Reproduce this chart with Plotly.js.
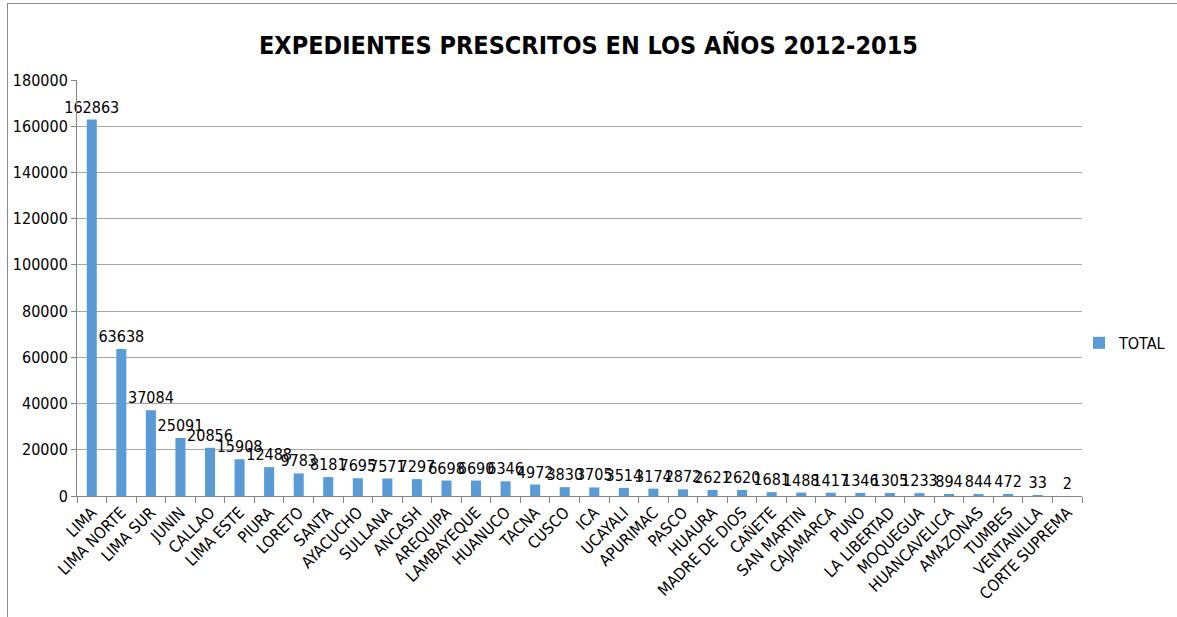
<!DOCTYPE html>
<html><head><meta charset="utf-8">
<script src="https://cdn.plot.ly/plotly-3.0.1.min.js"></script>
<style>
html,body{margin:0;padding:0;background:#fff;}
#frame{position:absolute;left:7px;top:3px;width:1175px;height:620px;border:1px solid #8c8c8c;box-sizing:border-box;}
#chart{position:absolute;left:0;top:0;width:1177px;height:617px;}
</style>
</head><body>
<div id="frame"></div>
<div id="chart"></div>
<script>
const categories = ["LIMA","LIMA NORTE","LIMA SUR","JUNIN","CALLAO","LIMA ESTE","PIURA","LORETO","SANTA","AYACUCHO","SULLANA","ANCASH","AREQUIPA","LAMBAYEQUE","HUANUCO","TACNA","CUSCO","ICA","UCAYALI","APURIMAC","PASCO","HUAURA","MADRE DE DIOS","CAÑETE","SAN MARTIN","CAJAMARCA","PUNO","LA LIBERTAD","MOQUEGUA","HUANCAVELICA","AMAZONAS","TUMBES","VENTANILLA","CORTE SUPREMA"];
const totals = [162863,63638,37084,25091,20856,15908,12488,9783,8181,7695,7571,7297,6698,6690,6346,4972,3830,3705,3514,3174,2872,2621,2620,1681,1488,1417,1346,1305,1233,894,844,472,33,2];
const yTicks = [0,20000,40000,60000,80000,100000,120000,140000,160000,180000];

const fontFam = "'DejaVu Sans Condensed', 'Liberation Sans Narrow', sans-serif";
const titleFam = "'DejaVu Sans Condensed', 'Liberation Sans Narrow', sans-serif";

const trace = {
  type: 'bar', name: 'TOTAL', x: categories, y: totals,
  text: totals.map(String), textposition: 'outside', cliponaxis: false, constraintext: 'none',
  textfont: {family: fontFam, size: 16, color: '#000'},
  outsidetextfont: {family: fontFam, size: 16, color: '#000'},
  marker: {color: '#5b9bd5'}
};

const layout = {
  width: 1177, height: 617,
  margin: {l: 77, r: 95, t: 80, b: 121, autoexpand: false},
  paper_bgcolor: 'rgba(0,0,0,0)', plot_bgcolor: 'rgba(0,0,0,0)',
  title: {text: 'EXPEDIENTES PRESCRITOS EN LOS AÑOS 2012-2015', x: 0.5, xanchor: 'center', y: 0.927, yanchor: 'middle',
          font: {family: titleFam, size: 25, color: '#000', weight: 'bold'}},
  bargap: 0.66,
  showlegend: true,
  legend: {x: 0.997, xanchor: 'left', y: 0.368, yanchor: 'middle', itemwidth: 30, font: {family: fontFam, size: 16, color: '#000'}},
  xaxis: {type: 'category', tickangle: -45, ticks: 'outside', tickson: 'boundaries', ticklen: 6, tickcolor: '#868686',
          showline: true, linecolor: '#868686', tickfont: {family: fontFam, size: 16, color: '#000'}},
  yaxis: {range: [0, 180000], autorange: false, tickvals: yTicks, ticktext: yTicks.map(String), showgrid: true, gridcolor: '#a6a6a6',
          showline: true, linecolor: '#868686', ticks: 'outside', ticklen: 5, tickcolor: '#868686', zeroline: false,
          tickfont: {family: fontFam, size: 16, color: '#000'}}
};
Plotly.newPlot('chart', [trace], layout, {displayModeBar: false});
</script>
</body></html>
